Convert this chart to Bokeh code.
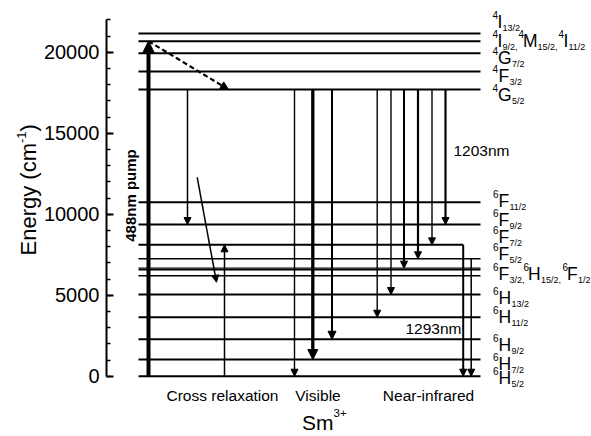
import math
from bokeh.plotting import figure
from bokeh.models import Range1d, LinearAxis, SingleIntervalTicker, Arrow, NormalHead, Label
from bokeh.embed import file_html
from bokeh.resources import INLINE

# ---------------- data (energies in cm^-1) ----------------
level_energy = [0, 1030, 2280, 3640, 5040, 6200, 6570, 6670, 7250, 8110,
                9360, 10740, 17700, 18810, 19940, 20680, 21150]
pump_start, pump_end = 0, 20680
nonrad_start, nonrad_end = 20680, 17700
cross_start = [17700, 12280, 0]
cross_end = [9360, 5800, 8110]
visible_start = [17700, 17700, 17700]
visible_end = [0, 1030, 2280]
nir_start = [17700, 17700, 17700, 17700, 17700, 17700, 8110, 7250]
nir_end = [3640, 5040, 6670, 7250, 8110, 9360, 0, 0]
group_names = ["Cross relaxation", "Visible", "Near-infrared"]
wavelength_labels = ["1203nm", "1293nm"]
ion_name = "Sm"
ion_charge = "3+"
y_axis_title = ["Energy (cm", "-1", ")"]
pump_label = "488nm pump"
# term symbol rows: list of (multiplicity, letter, J-subscript)
term_rows = [
    [("4", "I", "13/2")],
    [("4", "I", "9/2,"), ("4", "M", "15/2,"), ("4", "I", "11/2")],
    [("4", "G", "7/2")],
    [("4", "F", "3/2")],
    [("4", "G", "5/2")],
    [("6", "F", "11/2")],
    [("6", "F", "9/2")],
    [("6", "F", "7/2")],
    [("6", "F", "5/2")],
    [("6", "F", "3/2,"), ("6", "H", "15/2,"), ("6", "F", "1/2")],
    [("6", "H", "13/2")],
    [("6", "H", "11/2")],
    [("6", "H", "9/2")],
    [("6", "H", "7/2")],
    [("6", "H", "5/2")],
]

# ---------------- layout ----------------
W, H = 591, 436
Y0PX, PPU = 375.7, 0.0162
AXIS_X = 106


def E(px):
    """pixel row -> energy value used for placing annotations"""
    return (Y0PX - px) / PPU


REG = "Liberation Sans"

p = figure(width=W, height=H, x_range=Range1d(0, W), y_range=Range1d(E(H), E(0)),
           x_axis_type=None, y_axis_type=None, toolbar_location=None,
           output_backend="svg", min_border_left=0, min_border_right=0,
           min_border_top=0, min_border_bottom=0)
p.outline_line_color = None
p.background_fill_color = "white"
p.border_fill_color = "white"

yaxis = LinearAxis(ticker=SingleIntervalTicker(interval=5000, num_minor_ticks=5),
                   bounds=(0, 22000), fixed_location=AXIS_X)
yaxis.axis_line_width = 2
yaxis.axis_line_color = "black"
yaxis.major_tick_in = 7
yaxis.major_tick_out = 0
yaxis.minor_tick_in = 4
yaxis.minor_tick_out = 0
yaxis.major_tick_line_width = 2
yaxis.minor_tick_line_width = 1.5
yaxis.major_label_text_font = REG
yaxis.major_label_text_font_size = "20px"
yaxis.major_label_text_color = "black"
yaxis.major_label_standoff = 7
p.add_layout(yaxis, "left")

# energy levels
x_left = 138
x_right = [480] * len(level_energy)
x_right[level_energy.index(8110)] = 462.7
lw = [2] * len(level_energy)
for e_thin in (6200, 6570, 6670, 7250):
    lw[level_energy.index(e_thin)] = 1.4
p.segment(x0=[x_left] * len(level_energy), x1=x_right, y0=level_energy, y1=level_energy,
          line_color="black", line_width=lw)


def arrow(x, y0, y1, width=1.5, head=7, dash="solid", x1=None):
    a = Arrow(x_start=x, y_start=y0, x_end=x if x1 is None else x1, y_end=y1,
              line_width=width, line_color="black", line_dash=dash,
              end=NormalHead(size=head, fill_color="black", line_color="black", line_width=1))
    p.add_layout(a)


# pump and non-radiative relaxation
arrow(148, pump_start, pump_end, width=4, head=12)
arrow(148, nonrad_start, nonrad_end, width=2.2, head=8, dash="5 3", x1=228)

# cross relaxation
cross_x0 = [187, 196.7, 224]
cross_x1 = [187, 216, 224]
for xa, xb, s, e in zip(cross_x0, cross_x1, cross_start, cross_end):
    arrow(xa, s, e, width=1.5, head=7, x1=xb)

# visible
vis_x = [294, 312.3, 331.5]
vis_w = [1.4, 3.3, 2]
vis_h = [7, 10, 8]
for xa, s, e, w, h in zip(vis_x, visible_start, visible_end, vis_w, vis_h):
    arrow(xa, s, e, width=w, head=h)

# near infrared
nir_x = [376.7, 390.5, 403.5, 417.5, 431.5, 445, 462.7, 470.7]
nir_w = [1.4, 1.4, 2, 2.2, 1.4, 2.2, 2, 1.5]
for xa, s, e, w in zip(nir_x, nir_start, nir_end, nir_w):
    arrow(xa, s, e, width=w, head=7)


def label(x, ypx, text, size, font=REG, align="left", baseline="middle", angle=0, style="normal"):
    p.add_layout(Label(x=x, y=E(ypx), text=text, text_font=font, text_font_size=f"{size}px",
                       text_align=align, text_baseline=baseline, angle=angle,
                       text_color="black", text_font_style=style))


# y axis title (rotated, with superscript)
label(28, 255, y_axis_title[0], 22, angle=math.pi / 2)
label(21, 142.5, y_axis_title[1], 13, angle=math.pi / 2)
label(28, 131, y_axis_title[2], 22, angle=math.pi / 2)

# wavelength labels
label(453, 150, wavelength_labels[0], 15.5)
label(405, 328, wavelength_labels[1], 15.5)

# pump label
label(130, 195, pump_label, 15, align="center", angle=math.pi / 2, style="bold")

# group labels and ion
group_x = [222, 317.5, 428]
for gx, gname in zip(group_x, group_names):
    label(gx, 395, gname, 15.5, align="center")
label(301.5, 421.5, ion_name, 21)
label(333, 412, ion_charge, 11.5)

# term symbols
row_y = [21.5, 40, 57.5, 75, 94.5, 200, 219, 236.5, 253.5, 273, 297.5, 316.5, 344, 363.5, 377.5]
row_x = [
    [(492, 497, 502)],
    [(492, 497, 502), (518, 522.5, 537), (558, 563, 568)],
    [(492, 497.5, 511.5)],
    [(492, 498, 509)],
    [(492, 497.5, 511.5)],
    [(492.5, 498, 509)],
    [(492.5, 498, 509)],
    [(492.5, 498, 509)],
    [(492.5, 498, 509)],
    [(492.5, 498, 509), (523, 527.5, 540.5), (562, 566.5, 577.5)],
    [(492.5, 498, 511)],
    [(492.5, 498, 511)],
    [(492.5, 498, 511)],
    [(492.5, 498, 511)],
    [(492.5, 498, 511)],
]
for parts, xs, yc in zip(term_rows, row_x, row_y):
    for (mult, letter, sub), (xs_, xl_, xb_) in zip(parts, xs):
        label(xs_, yc - 7, mult, 10)
        label(xl_, yc, letter, 17.5)
        label(xb_, yc + 6, sub, 9)

open("out.html", "w").write(file_html(p, INLINE))
